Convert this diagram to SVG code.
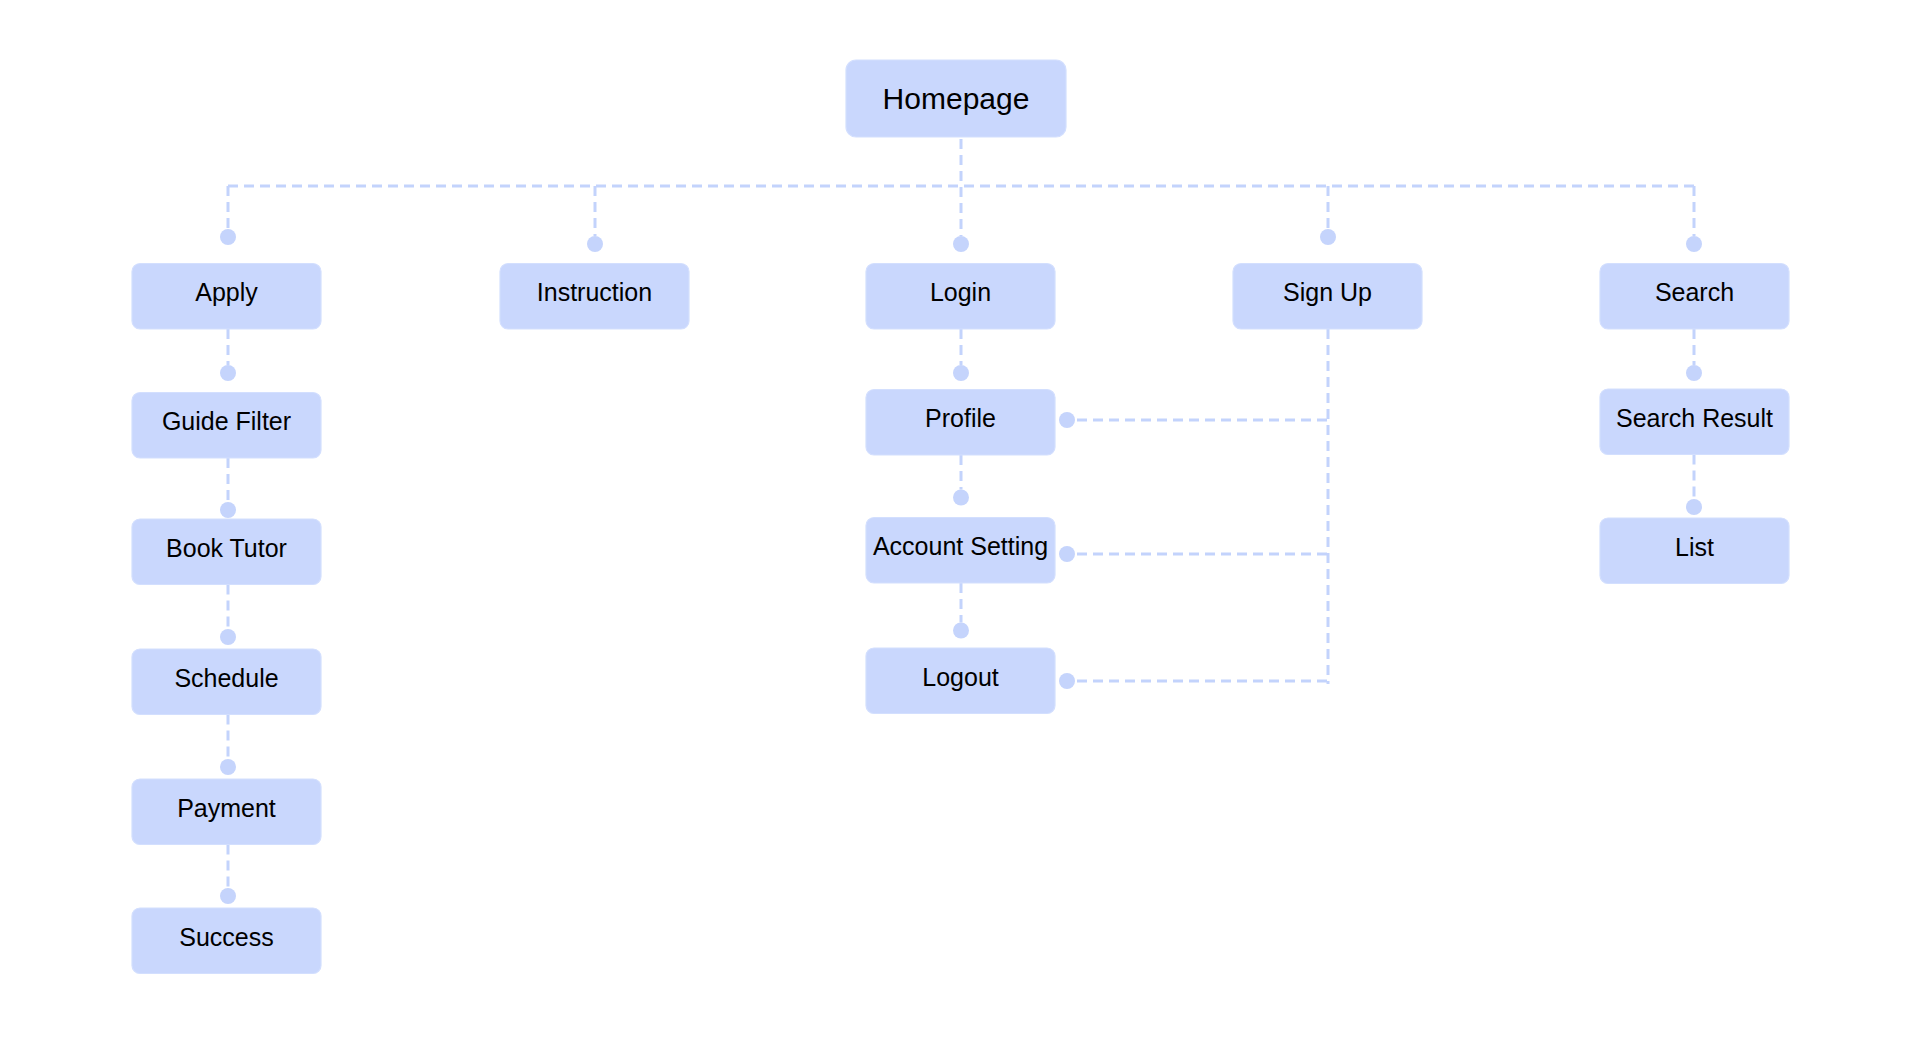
<svg xmlns="http://www.w3.org/2000/svg" width="1920" height="1037" viewBox="0 0 1920 1037">
<style>
.box{fill:#C9D7FD;stroke:#D3DFFE;stroke-width:1.2}
.lbl{font-family:"Liberation Sans",Arial,sans-serif;font-size:25px;fill:#000;text-anchor:middle}
.big{font-size:30px}
.ln{fill:none;stroke:#C3D3FC;stroke-width:3;stroke-dasharray:10 6}
.dot{fill:#C5D4FC}
</style>
<rect width="1920" height="1037" fill="#FFFFFF"/>
<g id="connectors">
<path class="ln" d="M961 139V236"/>
<path class="ln" d="M228 186H1694"/>
<path class="ln" d="M228 186V229"/>
<path class="ln" d="M595 186V236"/>
<path class="ln" d="M1328 186V229"/>
<path class="ln" d="M1694 186V236"/>
<path class="ln" d="M228 329V365"/>
<path class="ln" d="M228 458V502"/>
<path class="ln" d="M228 584.5V629"/>
<path class="ln" d="M228 714.5V759"/>
<path class="ln" d="M228 844.5V888"/>
<path class="ln" d="M961 329V365"/>
<path class="ln" d="M961 455V489.5"/>
<path class="ln" d="M961 583V622.5"/>
<path class="ln" d="M1694 329V365"/>
<path class="ln" d="M1694 454.5V499"/>
<path class="ln" d="M1328 329V684"/>
<path class="ln" d="M1077 420H1328"/>
<path class="ln" d="M1077 554H1328"/>
<path class="ln" d="M1077 681H1328"/>
<circle class="dot" cx="228" cy="237" r="8"/>
<circle class="dot" cx="595" cy="244" r="8"/>
<circle class="dot" cx="961" cy="244" r="8"/>
<circle class="dot" cx="1328" cy="237" r="8"/>
<circle class="dot" cx="1694" cy="244" r="8"/>
<circle class="dot" cx="228" cy="373" r="8"/>
<circle class="dot" cx="228" cy="510" r="8"/>
<circle class="dot" cx="228" cy="637" r="8"/>
<circle class="dot" cx="228" cy="767" r="8"/>
<circle class="dot" cx="228" cy="896" r="8"/>
<circle class="dot" cx="961" cy="373" r="8"/>
<circle class="dot" cx="961" cy="497.5" r="8"/>
<circle class="dot" cx="961" cy="630.5" r="8"/>
<circle class="dot" cx="1067" cy="420" r="8"/>
<circle class="dot" cx="1067" cy="554" r="8"/>
<circle class="dot" cx="1067" cy="681" r="8"/>
<circle class="dot" cx="1694" cy="373" r="8"/>
<circle class="dot" cx="1694" cy="507" r="8"/>
</g>
<g id="homepage"><rect class="box" x="846" y="60" width="220" height="77" rx="10"/><text class="lbl big" x="956" y="108.5">Homepage</text></g>
<g id="apply"><rect class="box" x="132" y="263.5" width="189" height="65.5" rx="8"/><text class="lbl" x="226.5" y="301">Apply</text></g>
<g id="instruction"><rect class="box" x="500" y="263.5" width="189" height="65.5" rx="8"/><text class="lbl" x="594.5" y="301">Instruction</text></g>
<g id="login"><rect class="box" x="866" y="263.5" width="189" height="65.5" rx="8"/><text class="lbl" x="960.5" y="301">Login</text></g>
<g id="signup"><rect class="box" x="1233" y="263.5" width="189" height="65.5" rx="8"/><text class="lbl" x="1327.5" y="301">Sign Up</text></g>
<g id="search"><rect class="box" x="1600" y="263.5" width="189" height="65.5" rx="8"/><text class="lbl" x="1694.5" y="301">Search</text></g>
<g id="guide-filter"><rect class="box" x="132" y="392.5" width="189" height="65.5" rx="8"/><text class="lbl" x="226.5" y="430">Guide Filter</text></g>
<g id="book-tutor"><rect class="box" x="132" y="519" width="189" height="65.5" rx="8"/><text class="lbl" x="226.5" y="556.5">Book Tutor</text></g>
<g id="schedule"><rect class="box" x="132" y="649" width="189" height="65.5" rx="8"/><text class="lbl" x="226.5" y="686.5">Schedule</text></g>
<g id="payment"><rect class="box" x="132" y="779" width="189" height="65.5" rx="8"/><text class="lbl" x="226.5" y="816.5">Payment</text></g>
<g id="success"><rect class="box" x="132" y="908" width="189" height="65.5" rx="8"/><text class="lbl" x="226.5" y="945.5">Success</text></g>
<g id="profile"><rect class="box" x="866" y="389.5" width="189" height="65.5" rx="8"/><text class="lbl" x="960.5" y="427">Profile</text></g>
<g id="account-setting"><rect class="box" x="866" y="517.5" width="189" height="65.5" rx="8"/><text class="lbl" x="960.5" y="555">Account Setting</text></g>
<g id="logout"><rect class="box" x="866" y="648" width="189" height="65.5" rx="8"/><text class="lbl" x="960.5" y="685.5">Logout</text></g>
<g id="search-result"><rect class="box" x="1600" y="389" width="189" height="65.5" rx="8"/><text class="lbl" x="1694.5" y="426.5">Search Result</text></g>
<g id="list"><rect class="box" x="1600" y="518" width="189" height="65.5" rx="8"/><text class="lbl" x="1694.5" y="555.5">List</text></g>
</svg>
